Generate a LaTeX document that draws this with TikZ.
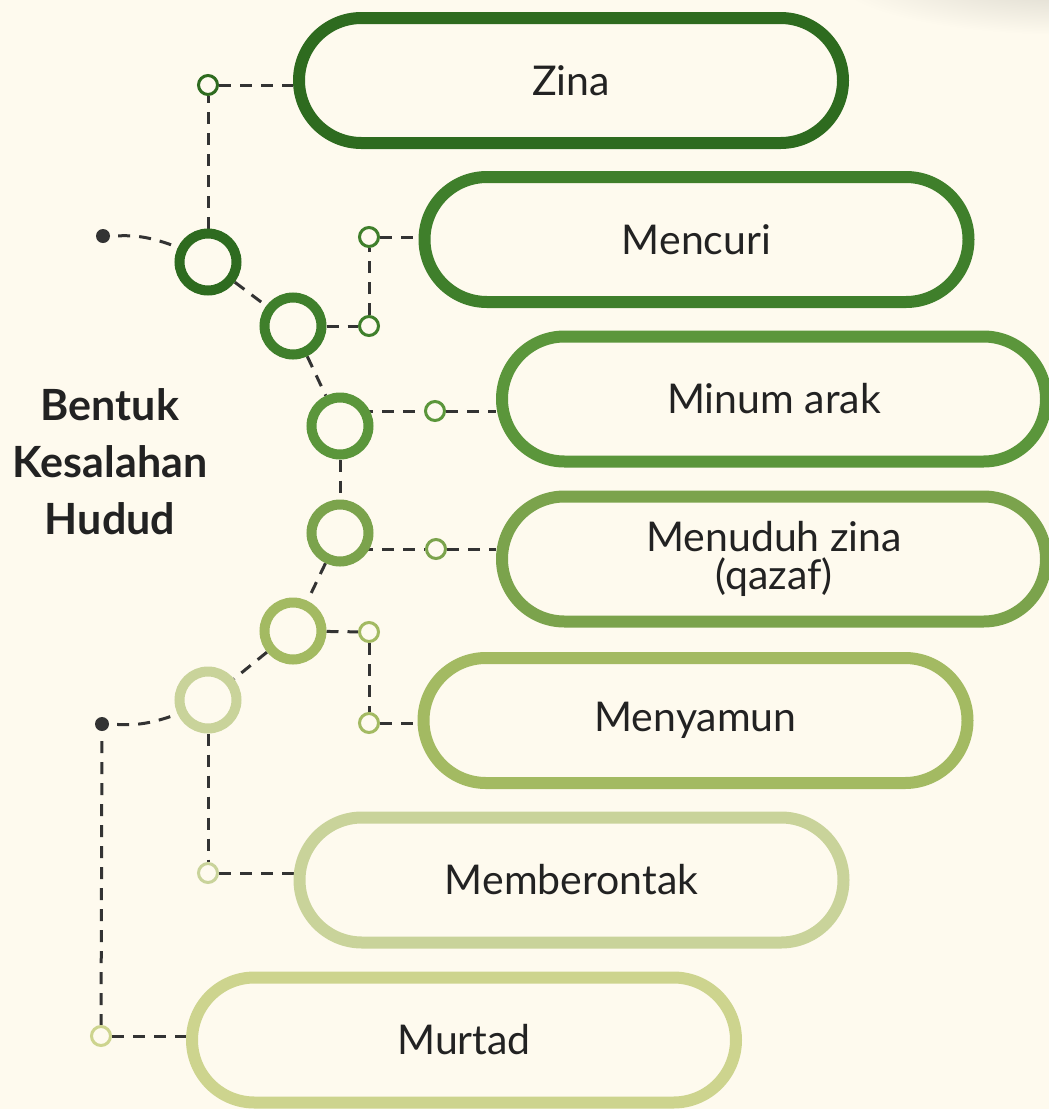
\documentclass[tikz,border=0pt]{standalone}
\usepackage{fontspec}
\setmainfont{Lato}
\usetikzlibrary{calc}
\definecolor{bgc}{HTML}{FEFAEE}
\definecolor{txt}{HTML}{222222}
\definecolor{linec}{HTML}{333333}
\definecolor{gA}{HTML}{2E6B1F}
\definecolor{gB}{HTML}{3F7F2B}
\definecolor{gC}{HTML}{5B963B}
\definecolor{gD}{HTML}{7BA34C}
\definecolor{gE}{HTML}{A3BA62}
\definecolor{gF}{HTML}{C9D39A}
\definecolor{gG}{HTML}{CDD48E}
\pgfdeclarelayer{bglayer}
\pgfdeclarelayer{lines}
\pgfsetlayers{bglayer,lines,main}
\begin{document}
\begin{tikzpicture}[x=1pt,y=-1pt,
  pill/.style={draw, line width=12pt, fill=bgc, rectangle, rounded corners=62.5pt,
    minimum width=544pt, minimum height=125pt, inner sep=0pt, text=txt,
    font=\fontsize{41}{44}\selectfont, align=center},
  ring/.style={circle, draw, line width=10pt, fill=bgc, minimum size=57pt, inner sep=0pt},
  sring/.style={circle, draw, line width=3pt, fill=bgc, minimum size=19pt, inner sep=0pt},
  dotn/.style={circle, fill=linec, minimum size=14pt, inner sep=0pt},
  conn/.style={draw=linec, line width=3pt, dash pattern=on 12pt off 9pt},
  title/.style={text=txt, font=\fontsize{43}{57}\selectfont\bfseries, align=center}
]
\useasboundingbox (0,0) rectangle (1049,1109);
\begin{pgfonlayer}{bglayer}
  \fill[bgc] (0,0) rectangle (1049,1109);
  \begin{scope}
    \clip (0,0) rectangle (1049,1109);
    \shade[inner color=bgc!84!black, outer color=bgc] (1070,-25) ellipse (240 and 60);
  \end{scope}
\end{pgfonlayer}

% pills
\node[pill, draw=gA] (zina) at (571,80.5) {Zina};
\node[pill, draw=gB] (mencuri) at (696.5,239.5) {Mencuri};
\node[pill, draw=gC] (minum) at (774,399) {Minum arak};
\node[pill, draw=gD] (menuduh) at (774,559) {Menuduh zina\\[-6pt](qazaf)};
\node[pill, draw=gE] (menyamun) at (695.5,720.5) {Menyamun};
\node[pill, draw=gF] (memberontak) at (571.5,880) {Memberontak};
\node[pill, draw=gG] (murtad) at (464,1040) {Murtad};

% big rings
\node[ring, draw=gA] (c1) at (208,262) {};
\node[ring, draw=gB] (c2) at (293,326) {};
\node[ring, draw=gC] (c3) at (340,426) {};
\node[ring, draw=gD] (c4) at (340,533) {};
\node[ring, draw=gE] (c5) at (293,631) {};
\node[ring, draw=gF] (c6) at (208,700) {};

% small rings
\node[sring, draw=gA] (s1) at (208,85) {};
\node[sring, draw=gB] (s2) at (369,237) {};
\node[sring, draw=gB] (s3) at (369,326) {};
\node[sring, draw=gC] (s4) at (435,411) {};
\node[sring, draw=gD] (s5) at (436,549) {};
\node[sring, draw=gE] (s6) at (369,632) {};
\node[sring, draw=gE] (s7) at (369,723) {};
\node[sring, draw=gF] (s8) at (208,873) {};
\node[sring, draw=gG] (s9) at (101,1036) {};

% dots
\node[dotn] (d1) at (103,236) {};
\node[dotn] (d2) at (102,724) {};

% title
\node[title] (t) at (110,462) {Bentuk\\Kesalahan\\Hudud};

\begin{pgfonlayer}{lines}
  \draw[conn, shorten <=8pt] (d1) to[bend left=12] (c1);
  \draw[conn] (c1) -- (s1);
  \draw[conn] (s1) -- (s1 -| zina.west);
  \draw[conn] (c1) -- (c2);
  \draw[conn] (c2) -- (s3);
  \draw[conn] (s3) -- (s2);
  \draw[conn] (s2) -- (s2 -| mencuri.west);
  \draw[conn] (c2) -- (c3);
  \draw[conn] (c3 |- s4) -- (s4);
  \draw[conn] (s4) -- (s4 -| minum.west);
  \draw[conn] (c3) -- (c4);
  \draw[conn] (c4 |- s5) -- (s5);
  \draw[conn] (s5) -- (s5 -| menuduh.west);
  \draw[conn] (c4) -- (c5);
  \draw[conn] (c5) -- (s6);
  \draw[conn] (s6) -- (s7);
  \draw[conn] (s7) -- (s7 -| menyamun.west);
  \draw[conn] (c5) -- (c6);
  \draw[conn, shorten <=8pt] (d2) to[bend right=12] (c6);
  \draw[conn] (c6) -- (s8);
  \draw[conn] (s8) -- (s8 -| memberontak.west);
  \draw[conn, shorten <=10pt] (d2) -- (s9);
  \draw[conn] (s9) -- (s9 -| murtad.west);
\end{pgfonlayer}
\end{tikzpicture}
\end{document}
